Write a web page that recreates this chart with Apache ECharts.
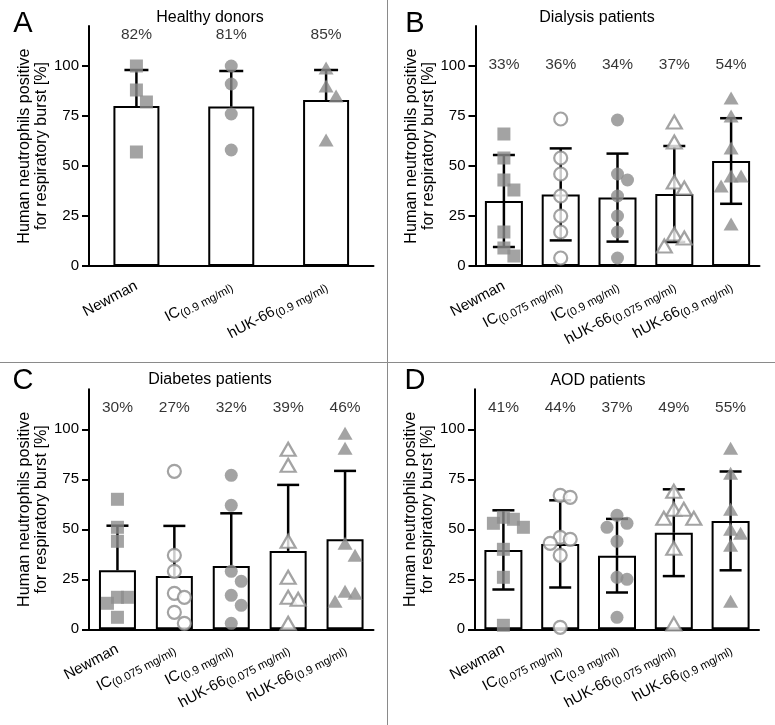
<!DOCTYPE html>
<html><head><meta charset="utf-8">
<script src="https://cdn.jsdelivr.net/npm/echarts@6/dist/echarts.min.js"></script>
<style>html,body{margin:0;padding:0;background:#fff}#c{width:775px;height:725px}</style>
</head><body><div id="c"></div>
<script>
// ---------------- data ----------------
const categories3 = ['Newman', 'IC(0.9 mg/ml)', 'hUK-66(0.9 mg/ml)'];
const categories5 = ['Newman', 'IC(0.075 mg/ml)', 'IC(0.9 mg/ml)', 'hUK-66(0.075 mg/ml)', 'hUK-66(0.9 mg/ml)'];
const yTicks = [0, 25, 50, 75, 100];

const healthyMeans = [80, 79.7, 83];
const healthySD = [18, 17.8, 15];
const healthyPct = ['82%', '81%', '85%'];
const healthyNewman = [100, 88, 82, 57];
const healthyIC09 = [100, 91, 76, 58];
const healthyHUK09 = [99, 90, 85, 63];

const dialysisMeans = [32.5, 35.8, 34.2, 36, 52.5];
const dialysisSD = [23, 23, 22, 24, 21.4];
const dialysisPct = ['33%', '36%', '34%', '37%', '54%'];
const dialysisNewman = [66, 54, 43, 38, 17, 9, 5];
const dialysisIC0075 = [73.5, 54, 46, 35, 25, 17, 4];
const dialysisIC09 = [73, 46, 43, 35, 25, 17, 4];
const dialysisHUK0075 = [72, 62, 42, 39, 16, 14, 10];
const dialysisHUK09 = [84, 75, 59, 45, 45, 40, 21];

const diabetesMeans = [29.5, 26.7, 31.7, 39.2, 45];
const diabetesSD = [22.3, 25, 26.3, 33, 34.2];
const diabetesPct = ['30%', '27%', '32%', '39%', '46%'];
const diabetesNewman = [65, 51, 44, 16, 16, 13, 6];
const diabetesIC0075 = [79, 37, 29, 18, 16, 8.5, 3];
const diabetesIC09 = [77, 62, 29, 24, 17, 12, 3];
const diabetesHUK0075 = [90, 82, 44, 26, 16, 15, 3];
const diabetesHUK09 = [98, 90.5, 43, 37, 19, 18, 14];

const aodMeans = [39.7, 42.7, 36.8, 48.3, 54.2];
const aodSD = [19.8, 21.8, 18.4, 21.7, 24.7];
const aodPct = ['41%', '44%', '37%', '49%', '55%'];
const aodNewman = [56, 55, 53, 51, 40, 26, 2];
const aodIC0075 = [67, 66, 46, 45, 43, 37, 1];
const aodIC09 = [57, 53, 51, 44, 26, 25, 6];
const aodHUK0075 = [69, 60, 60, 55.5, 55.5, 40.5, 2.7];
const aodHUK09 = [90.5, 78, 60, 50, 48, 42, 14];

// ---------------- styles / layout ----------------
const FONT = 'Liberation Sans, Arial, Helvetica, sans-serif';
const GRAY = '#8c8c8c';
const M = {
  sq: { symbol: 'rect', filled: true, size: [13, 13] },
  oc: { symbol: 'circle', filled: false, size: [13, 13] },
  fc: { symbol: 'circle', filled: true, size: [13, 13] },
  ot: { symbol: 'triangle', filled: false, size: [15, 13] },
  ft: { symbol: 'triangle', filled: true, size: [15, 13] }
};

const panels = [
  { letter: 'A', title: 'Healthy donors', cats: categories3, means: healthyMeans, sd: healthySD, pct: healthyPct,
    groups: [healthyNewman, healthyIC09, healthyHUK09], markers: [M.sq, M.fc, M.ft], twoSided: false,
    grid: { left: 89, top: 26, width: 284.5, height: 240 }, pctLevel: 115.5, barWidth: 46, cap: 24,
    titlePos: [210, 18], letterPos: [23, 24] },
  { letter: 'B', title: 'Dialysis patients', cats: categories5, means: dialysisMeans, sd: dialysisSD, pct: dialysisPct,
    groups: [dialysisNewman, dialysisIC0075, dialysisIC09, dialysisHUK0075, dialysisHUK09], markers: [M.sq, M.oc, M.fc, M.ot, M.ft], twoSided: true,
    grid: { left: 475.5, top: 26, width: 284, height: 240 }, pctLevel: 100.5, barWidth: 38, cap: 22,
    titlePos: [597, 18], letterPos: [415, 24] },
  { letter: 'C', title: 'Diabetes patients', cats: categories5, means: diabetesMeans, sd: diabetesSD, pct: diabetesPct,
    groups: [diabetesNewman, diabetesIC0075, diabetesIC09, diabetesHUK0075, diabetesHUK09], markers: [M.sq, M.oc, M.fc, M.ot, M.ft], twoSided: false,
    grid: { left: 89, top: 389.3, width: 284.5, height: 240 }, pctLevel: 110.6, barWidth: 37, cap: 22,
    titlePos: [210, 380], letterPos: [23, 381] },
  { letter: 'D', title: 'AOD patients', cats: categories5, means: aodMeans, sd: aodSD, pct: aodPct,
    groups: [aodNewman, aodIC0075, aodIC09, aodHUK0075, aodHUK09], markers: [M.sq, M.oc, M.fc, M.ot, M.ft], twoSided: true,
    grid: { left: 475, top: 389.3, width: 284, height: 240 }, pctLevel: 111, barWidth: 38, cap: 22,
    titlePos: [598, 381], letterPos: [415, 381] }
];

// simple column beeswarm: points closer than minDy pixels vertically go to side columns
function swarm(values, pxPerUnit, step, minDy) {
  const order = values.map((v, i) => i).sort((a, b) => values[b] - values[a]);
  const placed = [];
  const offs = new Array(values.length).fill(0);
  const cand = [0, step, -step, 2 * step, -2 * step, 3 * step, -3 * step];
  order.forEach(i => {
    const y = values[i] * pxPerUnit;
    for (const dx of cand) {
      if (placed.every(p => Math.abs(p.x - dx) > step * 0.5 || Math.abs(p.y - y) >= minDy)) {
        offs[i] = dx; placed.push({ x: dx, y }); break;
      }
    }
  });
  return offs;
}

function catLabel(v) {
  const i = v.indexOf('(');
  return i < 0 ? '{m|' + v + '}' : '{m|' + v.slice(0, i) + '}{s|' + v.slice(i) + '}';
}

const option = { animation: false, grid: [], xAxis: [], yAxis: [], series: [], graphic: [] };

panels.forEach((p, k) => {
  option.grid.push(Object.assign({ containLabel: false }, p.grid));
  option.xAxis.push({
    type: 'category', gridIndex: k, data: p.cats, boundaryGap: true,
    axisLine: { lineStyle: { color: '#000', width: 2 } },
    axisTick: { alignWithLabel: true, length: 7, lineStyle: { color: '#000', width: 2 } },
    axisLabel: {
      rotate: 28, margin: 19, interval: 0, formatter: catLabel,
      rich: {
        m: { fontSize: 15, fontFamily: FONT, color: '#000', verticalAlign: 'top' },
        s: { fontSize: 11.5, fontFamily: FONT, color: '#000', verticalAlign: 'top', padding: [6, 0, 0, 0] }
      }
    }
  });
  option.yAxis.push({
    type: 'value', gridIndex: k, min: 0, max: 120,
    name: 'Human neutrophils positive\nfor respiratory burst [%]',
    nameLocation: 'middle', nameGap: 35,
    nameTextStyle: { fontSize: 16.2, fontFamily: FONT, color: '#000', lineHeight: 17 },
    axisLine: { show: true, lineStyle: { color: '#000', width: 2 } },
    axisTick: { show: true, length: 7, lineStyle: { color: '#000', width: 2 }, customValues: yTicks },
    axisLabel: { fontSize: 15, fontFamily: FONT, color: '#000', margin: 10, customValues: yTicks },
    splitLine: { show: false }
  });
  // bars
  option.series.push({
    type: 'bar', xAxisIndex: k, yAxisIndex: k, data: p.means, barWidth: p.barWidth, z: 2,
    itemStyle: { color: '#fff', borderColor: '#000', borderWidth: 2 }
  });
  // error bars
  option.series.push({
    type: 'custom', xAxisIndex: k, yAxisIndex: k, z: 3,
    data: p.means.map((m, i) => [i, m, p.sd[i]]),
    renderItem: (params, api) => {
      const i = api.value(0), m = api.value(1), s = api.value(2);
      const c = api.coord([i, m]);
      const top = api.coord([i, m + s]);
      const st = { stroke: '#000', lineWidth: 2.5 };
      const ch = [
        { type: 'line', shape: { x1: c[0], y1: c[1], x2: top[0], y2: top[1] }, style: st },
        { type: 'line', shape: { x1: c[0] - p.cap / 2, y1: top[1], x2: c[0] + p.cap / 2, y2: top[1] }, style: st }
      ];
      if (p.twoSided) {
        const bot = api.coord([i, m - s]);
        ch.push({ type: 'line', shape: { x1: c[0], y1: c[1], x2: bot[0], y2: bot[1] }, style: st });
        ch.push({ type: 'line', shape: { x1: c[0] - p.cap / 2, y1: bot[1], x2: c[0] + p.cap / 2, y2: bot[1] }, style: st });
      }
      return { type: 'group', children: ch };
    }
  });
  // individual points
  p.groups.forEach((vals, ci) => {
    const mk = p.markers[ci];
    const offs = swarm(vals, 2, 10, 13);
    option.series.push({
      type: 'scatter', xAxisIndex: k, yAxisIndex: k, z: 4,
      symbol: mk.symbol, symbolSize: mk.size,
      itemStyle: mk.filled ? { color: GRAY } : { color: '#fff', borderColor: GRAY, borderWidth: 2.2 },
      data: vals.map((v, j) => ({ value: [ci, v], symbolOffset: [offs[j], 0] }))
    });
  });
  // percentage labels
  option.series.push({
    type: 'scatter', xAxisIndex: k, yAxisIndex: k, z: 5, symbolSize: 1,
    itemStyle: { color: 'transparent' },
    data: p.pct.map((t, i) => [i, p.pctLevel]),
    label: { show: true, position: 'inside', formatter: d => p.pct[d.dataIndex],
      fontSize: 15.5, fontFamily: FONT, color: '#000' }
  });
  // title and panel letter
  option.graphic.push({ type: 'text', x: p.titlePos[0], y: p.titlePos[1],
    style: { text: p.title, font: '16px ' + FONT, fill: '#000', align: 'center', verticalAlign: 'middle', textAlign: 'center', textVerticalAlign: 'middle' } });
  option.graphic.push({ type: 'text', x: p.letterPos[0], y: p.letterPos[1],
    style: { text: p.letter, font: '29px ' + FONT, fill: '#000', align: 'center', verticalAlign: 'middle', textAlign: 'center', textVerticalAlign: 'middle' } });
});

// panel separators
option.graphic.push({ type: 'line', shape: { x1: 387.5, y1: 0, x2: 387.5, y2: 725 }, style: { stroke: '#8a8a8a', lineWidth: 1 } });
option.graphic.push({ type: 'line', shape: { x1: 0, y1: 362.5, x2: 775, y2: 362.5 }, style: { stroke: '#8a8a8a', lineWidth: 1 } });

const chart = echarts.init(document.getElementById('c'), null, { renderer: 'canvas' });
chart.setOption(option);
</script>
</body></html>
